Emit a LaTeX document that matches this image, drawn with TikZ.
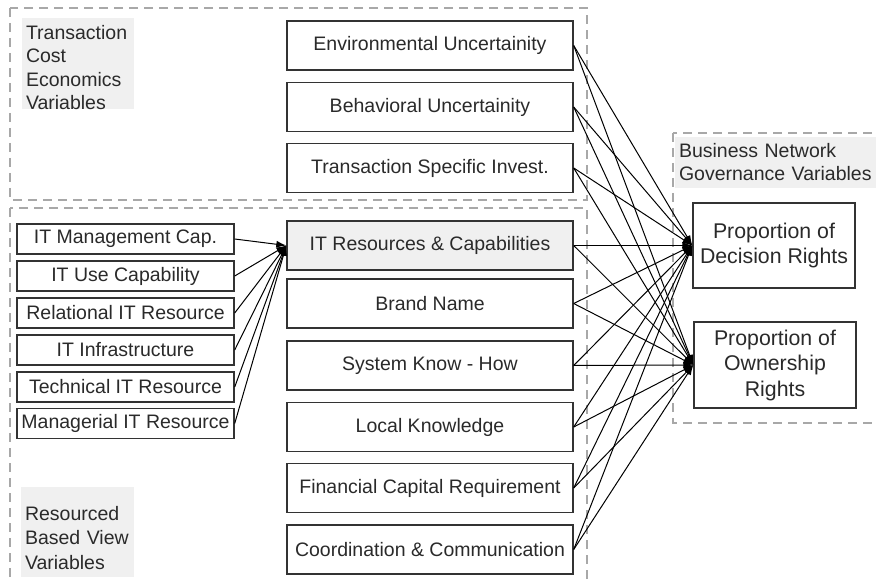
\documentclass[tikz,border=0pt]{standalone}
\usepackage{fontspec}
\setmainfont{Liberation Sans}
\usetikzlibrary{arrows.meta}
\definecolor{ink}{HTML}{2A2A2A}
\definecolor{frame}{HTML}{333333}
\definecolor{dashgray}{HTML}{A8A8A8}
\definecolor{labelfill}{HTML}{F0F0F0}
\begin{document}
\begin{tikzpicture}[x=1pt,y=-1pt,
  every node/.style={font=\fontsize{19.5}{24}\selectfont, text=ink},
  group/.style={draw=dashgray, line width=1.8pt, dash pattern=on 9pt off 6pt},
  grouplabel/.style={inner sep=0pt, align=left},
  varbox/.style={draw=frame, line width=1.4pt, fill=white, minimum width=286pt, minimum height=49pt, inner sep=0pt},
  itbox/.style={draw=frame, line width=1.4pt, fill=white, minimum width=217pt, minimum height=30pt, inner sep=0pt},
  govbox/.style={draw=frame, line width=1.4pt, fill=white, minimum width=162pt, minimum height=85pt, inner sep=0pt, align=center,
    font=\fontsize{21.3}{25.5}\selectfont},
  conn/.style={draw=black, line width=1pt, -{Latex[length=10pt,width=7pt]}}]

\useasboundingbox (0,0) rectangle (876,583);

% variable groups
\draw[group] (10,8) rectangle (587,200);
\draw[group] (10,208) rectangle (587,600);
\draw[group] (673,133) rectangle (895,423);

% group captions on light grey panels
\fill[labelfill] (22,18) rectangle (134,109);
\node[grouplabel, text width=104pt, font=\fontsize{19.5}{23.5}\selectfont, yshift=-4pt] (tcelabel) at (78,63.5)
  {Transaction\\Cost\\Economics\\Variables};
\fill[labelfill] (675,137) rectangle (880,188);
\node[grouplabel, text width=197pt, font=\fontsize{19.5}{23}\selectfont] (bnglabel) at (777.5,162.5)
  {Business Network\\Governance Variables};
\fill[labelfill] (21,487) rectangle (134,577);
\node[grouplabel, text width=105pt, font=\fontsize{19.5}{24.5}\selectfont, yshift=-6pt] (rbvlabel) at (77.5,532)
  {Resourced\\Based View\\Variables};

% transaction cost and resource variables
\node[varbox] (env)  at (430,45.5)  {Environmental Uncertainity};
\node[varbox] (beh)  at (430,107)   {Behavioral Uncertainity};
\node[varbox] (tsi)  at (430,168)   {Transaction Specific Invest.};
\node[varbox, fill=labelfill] (itrc) at (430,245.5) {IT Resources \& Capabilities};
\node[varbox] (brand) at (430,303.5) {Brand Name};
\node[varbox] (sys)   at (430,365.5) {System Know - How};
\node[varbox] (local) at (430,427)   {Local Knowledge};
\node[varbox] (fin)   at (430,488)   {Financial Capital Requirement};
\node[varbox] (coord) at (430,549.5) {Coordination \& Communication};

% IT capability components
\node[itbox] (itm)   at (125.5,239)   {IT Management Cap.};
\node[itbox] (ituse) at (125.5,276)   {IT Use Capability};
\node[itbox] (rel)   at (125.5,313)   {Relational IT Resource};
\node[itbox] (infra) at (125.5,350)   {IT Infrastructure};
\node[itbox] (tech)  at (125.5,387)   {Technical IT Resource};
\node[itbox] (mgr)   at (125.5,423.5) {Managerial IT Resource};

% governance outcomes
\node[govbox] (dec) at (774,245.5) {Proportion of\\Decision Rights};
\node[govbox, minimum height=86pt] (own) at (775,365) {Proportion of\\Ownership\\Rights};

% components feed the IT resources box
\foreach \s in {itm,ituse,rel,infra,tech,mgr}
  \draw[conn] (\s.east) -- (itrc.west);

% every variable feeds both governance outcomes
\foreach \s in {env,beh,tsi,itrc,brand,sys,local,fin,coord} {
  \draw[conn] (\s.east) -- (dec.west);
  \draw[conn] (\s.east) -- (own.west);
}
\end{tikzpicture}
\end{document}
